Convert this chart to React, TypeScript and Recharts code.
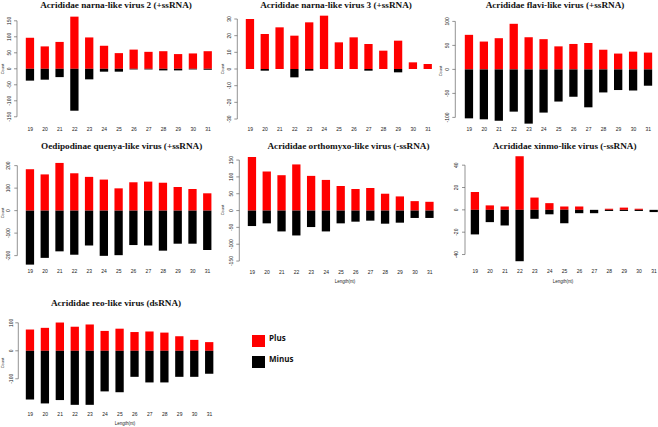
import React from 'react';
import { BarChart, Bar, XAxis, YAxis } from 'recharts';

const lengths = ['19', '20', '21', '22', '23', '24', '25', '26', '27', '28', '29', '30', '31'];

const seriesNames = ['Plus', 'Minus'];
const seriesColors = ['#ff0000', '#000000'];

const narna2Plus = [97, 70, 84, 163, 98, 72, 49, 60, 53, 55, 46, 48, 55];
const narna2Minus = [-37, -34, -26, -131, -33, -9, -9, -2, -2, -5, -5, -2, -3];

const narna3Plus = [30, 21, 25, 20, 28, 32, 16, 19, 15, 11, 17, 4, 3];
const narna3Minus = [0, -1, 0, -5, -1, 0, 0, 0, -1, 0, -2, 0, 0];

const flaviPlus = [72, 58, 65, 95, 67, 63, 48, 53, 55, 41, 33, 37, 35];
const flaviMinus = [-102, -104, -107, -88, -113, -90, -67, -57, -79, -48, -43, -44, -34];

const quenyaPlus = [184, 161, 212, 166, 150, 138, 99, 126, 129, 124, 105, 96, 77];
const quenyaMinus = [-240, -210, -181, -196, -155, -201, -198, -153, -155, -178, -147, -147, -175];

const orthoPlus = [159, 116, 105, 137, 103, 91, 73, 64, 67, 50, 42, 28, 26];
const orthoMinus = [-46, -38, -62, -74, -49, -62, -38, -33, -30, -39, -36, -22, -22];

const xinmoPlus = [16, 4, 3, 48, 11, 6, 3, 3, 0, 1, 2, 1, 0];
const xinmoMinus = [-22, -11, -14, -46, -8, -4, -12, -3, -3, -1, -1, -1, -2];

const reoPlus = [76, 82, 101, 86, 94, 71, 79, 67, 69, 65, 52, 39, 31];
const reoMinus = [-174, -188, -176, -193, -193, -145, -148, -93, -113, -113, -93, -93, -82];

const titles = [
  'Acrididae narna-like virus 2 (+ssRNA)',
  'Acrididae narna-like virus 3 (+ssRNA)',
  'Acrididae flavi-like virus (+ssRNA)',
  'Oedipodinae quenya-like virus (+ssRNA)',
  'Acrididae orthomyxo-like virus (-ssRNA)',
  'Acrididae xinmo-like virus (-ssRNA)',
  'Acrididae reo-like virus (dsRNA)',
];

interface Panel {
  title: string;
  plus: number[];
  minus: number[];
  ticks: number[];
  domain: [number, number];
  left: number;
  plotLeft: number;
  plotRight: number;
  zeroY: number;
  ppu: number;
  axisX: number;
  labelX: number;
  countX?: number;
  xLabelY: number;
  lengthY?: number;
  lengthX?: number;
  titleX: number;
  titleY: number;
}

const panels: Panel[] = [
  { title: titles[0], plus: narna2Plus, minus: narna2Minus, ticks: [-150, -100, -50, 0, 50, 100, 150], domain: [-165, 165],
    left: 0, plotLeft: 22.8, plotRight: 215.4, zeroY: 69, ppu: 0.32, axisX: 17, labelX: 9, countX: 2.5, xLabelY: 129, titleX: 116, titleY: 5 },
  { title: titles[1], plus: narna3Plus, minus: narna3Minus, ticks: [-30, -20, -10, 0, 10, 20, 30], domain: [-33, 33],
    left: 220, plotLeft: 242.8, plotRight: 435.4, zeroY: 69, ppu: 1.667, axisX: 237.3, labelX: 229, countX: 222.5, xLabelY: 129, titleX: 336, titleY: 5 },
  { title: titles[2], plus: flaviPlus, minus: flaviMinus, ticks: [-100, -50, 0, 50, 100], domain: [-115, 105],
    left: 438, plotLeft: 461.8, plotRight: 655.8, zeroY: 69, ppu: 0.48, axisX: 455.3, labelX: 447, countX: 440.5, xLabelY: 129, titleX: 555, titleY: 5 },
  { title: titles[3], plus: quenyaPlus, minus: quenyaMinus, ticks: [-200, -100, 0, 100, 200], domain: [-245, 225],
    left: 0, plotLeft: 22.8, plotRight: 214.9, zeroY: 211, ppu: 0.225, axisX: 17.3, labelX: 8.5, countX: 2.5, xLabelY: 271.5, titleX: 121.7, titleY: 145.5 },
  { title: titles[4], plus: orthoPlus, minus: orthoMinus, ticks: [-150, -100, -50, 0, 50, 100, 150], domain: [-165, 165],
    left: 220, plotLeft: 244.8, plotRight: 437.1, zeroY: 210.3, ppu: 0.3367, axisX: 239.3, labelX: 230.7, countX: 222.7, xLabelY: 271.5, lengthY: 282.3, lengthX: 345, titleX: 348.5, titleY: 145.5 },
  { title: titles[5], plus: xinmoPlus, minus: xinmoMinus, ticks: [-40, -20, 0, 20, 40], domain: [-50, 50],
    left: 438, plotLeft: 467.75, plotRight: 661.45, zeroY: 210.3, ppu: 1.117, axisX: 465, labelX: 456, xLabelY: 271.5, lengthY: 282.3, lengthX: 563, titleX: 564.7, titleY: 145.5 },
  { title: titles[6], plus: reoPlus, minus: reoMinus, ticks: [-100, 0, 100], domain: [-195, 110],
    left: 0, plotLeft: 22.8, plotRight: 217, zeroY: 350.7, ppu: 0.28, axisX: 18.3, labelX: 11, countX: 2.7, xLabelY: 414, lengthY: 424, lengthX: 125, titleX: 116, titleY: 303 },
];

const TOP_PAD = 6;
const X_AXIS_H = 20;
const tickFont = '"Liberation Sans", Arial, sans-serif';

const YTick = (props: any) => {
  const { y, payload, cfg } = props;
  const ax = cfg.axisX - cfg.left;
  const lx = cfg.labelX - cfg.left;
  const v = payload.value;
  const span = (cfg.ticks[cfg.ticks.length - 1] - cfg.ticks[0]) * cfg.ppu;
  return (
    <g>
      {v === cfg.ticks[0] && <line x1={ax} x2={ax} y1={y} y2={y - span} stroke="#666" strokeWidth={0.7} />}
      <line x1={ax - 3} x2={ax} y1={y} y2={y} stroke="#666" strokeWidth={0.7} />
      <text x={lx} y={y} transform={`rotate(-90 ${lx} ${y})`} textAnchor="middle" dominantBaseline="central"
        fontSize={5} fontFamily={tickFont} fill="#222">{v}</text>
    </g>
  );
};

const XTick = (props: any) => {
  const { x, payload, labelY } = props;
  return (
    <text x={x} y={labelY} textAnchor="middle" dominantBaseline="central" fontSize={5} fontFamily={tickFont} fill="#222">
      {payload.value}
    </text>
  );
};

function PanelChart({ cfg }: { cfg: Panel }) {
  const data = lengths.map((len, i) => ({ len, plus: cfg.plus[i], minus: cfg.minus[i] }));
  const plotTop = cfg.zeroY - cfg.domain[1] * cfg.ppu;
  const plotH = (cfg.domain[1] - cfg.domain[0]) * cfg.ppu;
  const chartTop = plotTop - TOP_PAD;
  const width = cfg.plotRight - cfg.left;
  const height = TOP_PAD + plotH + X_AXIS_H;
  return (
    <>
      <div style={{ position: 'absolute', left: cfg.left, top: chartTop }}>
        <BarChart width={width} height={height} data={data} stackOffset="sign" barSize={8.3}
          margin={{ top: TOP_PAD, right: 0, bottom: 0, left: 0 }}>
          <XAxis dataKey="len" interval={0} axisLine={false} tickLine={false} height={X_AXIS_H}
            tick={<XTick labelY={cfg.xLabelY - chartTop} />} />
          <YAxis type="number" domain={cfg.domain} ticks={cfg.ticks} width={cfg.plotLeft - cfg.left}
            axisLine={false} tickLine={false} interval={0} tick={<YTick cfg={cfg} />} />
          <Bar dataKey="plus" name={seriesNames[0]} stackId="s" fill={seriesColors[0]} isAnimationActive={false} />
          <Bar dataKey="minus" name={seriesNames[1]} stackId="s" fill={seriesColors[1]} isAnimationActive={false} />
        </BarChart>
      </div>
      <div style={{ position: 'absolute', left: cfg.titleX - 150, top: cfg.titleY - 6, width: 300, lineHeight: '12px',
        textAlign: 'center', fontFamily: '"Liberation Serif", "Times New Roman", serif', fontWeight: 'bold', fontSize: 9.2, color: '#111' }}>
        {cfg.title}
      </div>
      {cfg.countX !== undefined && (
        <div style={{ position: 'absolute', left: cfg.countX - 20, top: plotTop + plotH / 2 - 3, width: 40, lineHeight: '6px',
          textAlign: 'center', fontFamily: tickFont, fontSize: 4, color: '#222', transform: 'rotate(-90deg)' }}>
          Count
        </div>
      )}
      {cfg.lengthY !== undefined && (
        <div style={{ position: 'absolute', left: (cfg.lengthX ?? 0) - 30, top: cfg.lengthY - 3, width: 60, lineHeight: '6px',
          textAlign: 'center', fontFamily: tickFont, fontSize: 4.5, color: '#222' }}>
          Length(nt)
        </div>
      )}
    </>
  );
}

export default function App() {
  return (
    <div style={{ position: 'absolute', left: 0, top: 0, width: 658, height: 427, overflow: 'hidden', background: '#fff' }}>
      {panels.map((p) => (
        <PanelChart key={p.title} cfg={p} />
      ))}
      {seriesNames.map((name, i) => (
        <div key={name} style={{ position: 'absolute', left: 252, top: 334 + i * 21, height: 13, display: 'flex', alignItems: 'center' }}>
          <div style={{ width: 13, height: 12, background: seriesColors[i] }} />
          <span style={{ marginLeft: 4, marginTop: -7, fontFamily: '"Open Sans", "Liberation Sans", sans-serif', fontWeight: 'bold', fontSize: 8, color: '#111' }}>
            {name}
          </span>
        </div>
      ))}
    </div>
  );
}
